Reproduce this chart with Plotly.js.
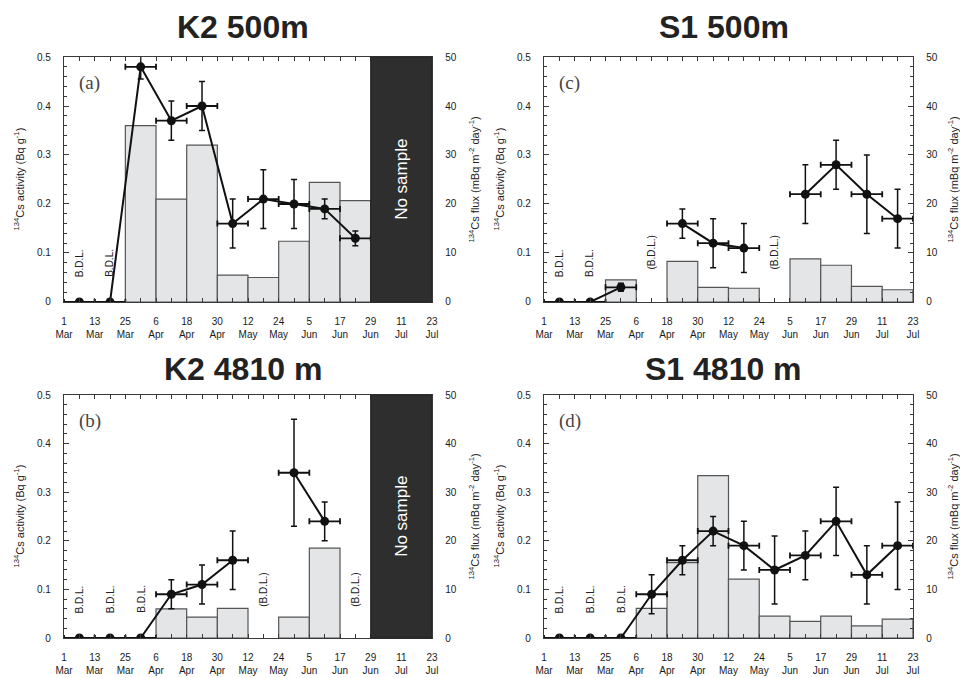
<!DOCTYPE html>
<html>
<head>
<meta charset="utf-8">
<script src="https://cdn.plot.ly/plotly-3.0.1.min.js"></script>
<style>html,body{margin:0;padding:0;background:#fff;}#chart{width:960px;height:678px;}</style>
</head>
<body>
<div id="chart"></div>
<script>
// ---- Data ----
const tickLabels = ['1<br>Mar','13<br>Mar','25<br>Mar','6<br>Apr','18<br>Apr','30<br>Apr','12<br>May','24<br>May','5<br>Jun','17<br>Jun','29<br>Jun','11<br>Jul','23<br>Jul'];
const tickDays = [0,12,24,36,48,60,72,84,96,108,120,132,144]; // days after 1 Mar

// K2 500m (a)
const k2_500_activity = [0,0,0.48,0.37,0.40,0.16,0.21,0.20,0.19,0.13,null,null];
const k2_500_err      = [0,0,0.025,0.04,0.05,0.05,0.06,0.05,0.02,0.015,null,null];
const k2_500_flux     = [null,null,36,21,32,5.5,5,12.4,24.4,20.7,null,null];
const k2_500_bdl      = ['B.D.L.','B.D.L.','','','','','','','','','',''];
const k2_500_nosample = [false,false,false,false,false,false,false,false,false,false,true,true];

// K2 4810 m (b)
const k2_4810_activity = [0,0,0,0.09,0.11,0.16,null,0.34,0.24,null,null,null];
const k2_4810_err      = [0,0,0,0.03,0.04,0.06,null,0.11,0.04,null,null,null];
const k2_4810_flux     = [null,null,null,6.0,4.3,6.1,null,4.3,18.5,null,null,null];
const k2_4810_bdl      = ['B.D.L.','B.D.L.','B.D.L.','','','','(B.D.L.)','','','(B.D.L.)','',''];
const k2_4810_nosample = [false,false,false,false,false,false,false,false,false,false,true,true];

// S1 500m (c)
const s1_500_activity = [0,0,0.03,null,0.16,0.12,0.11,null,0.22,0.28,0.22,0.17];
const s1_500_err      = [0,0,0.008,null,0.03,0.05,0.05,null,0.06,0.05,0.08,0.06];
const s1_500_flux     = [null,null,4.5,null,8.3,3.0,2.8,null,8.8,7.5,3.2,2.5];
const s1_500_bdl      = ['B.D.L.','B.D.L.','','(B.D.L.)','','','','(B.D.L.)','','','',''];
const s1_500_nosample = [false,false,false,false,false,false,false,false,false,false,false,false];

// S1 4810 m (d)
const s1_4810_activity = [0,0,0,0.09,0.16,0.22,0.19,0.14,0.17,0.24,0.13,0.19];
const s1_4810_err      = [0,0,0,0.04,0.03,0.03,0.05,0.07,0.05,0.07,0.06,0.09];
const s1_4810_flux     = [null,null,null,6.1,15.5,33.4,12.1,4.5,3.4,4.5,2.5,3.9];
const s1_4810_bdl      = ['B.D.L.','B.D.L.','B.D.L.','','','','','','','','',''];
const s1_4810_nosample = [false,false,false,false,false,false,false,false,false,false,false,false];

// ---- Build ----
const panels = [
  {title:'K2 500m', tag:'(a)', act:k2_500_activity, err:k2_500_err, flux:k2_500_flux, bdl:k2_500_bdl, ns:k2_500_nosample,
   xd:[0.0667,0.45], yd:[0.5546,0.9159], col:0, row:0},
  {title:'K2 4810 m', tag:'(b)', act:k2_4810_activity, err:k2_4810_err, flux:k2_4810_flux, bdl:k2_4810_bdl, ns:k2_4810_nosample,
   xd:[0.0667,0.45], yd:[0.059,0.4174], col:0, row:1},
  {title:'S1 500m', tag:'(c)', act:s1_500_activity, err:s1_500_err, flux:s1_500_flux, bdl:s1_500_bdl, ns:s1_500_nosample,
   xd:[0.5667,0.951], yd:[0.5546,0.9159], col:1, row:0},
  {title:'S1 4810 m', tag:'(d)', act:s1_4810_activity, err:s1_4810_err, flux:s1_4810_flux, bdl:s1_4810_bdl, ns:s1_4810_nosample,
   xd:[0.5667,0.951], yd:[0.059,0.4174], col:1, row:1}
];

const mids = tickDays.slice(0,-1).map((d,i)=> (d + tickDays[i+1]) / 2);
const halfW = (tickDays[1]-tickDays[0]) / 2;

const tickFont = {family:'Liberation Sans, Arial, sans-serif', size:10, color:'#1a1a1a'};
const lineCol = '#3a3a3a';
const traces = [];
const layout = {
  width:960, height:678, margin:{l:0,r:0,t:0,b:0},
  paper_bgcolor:'#fff', plot_bgcolor:'#fff', showlegend:false,
  shapes:[], annotations:[]
};

panels.forEach((p, k) => {
  const xn = k===0 ? 'x' : 'x'+(k+1);
  const yb = 'y'+(2*k+1);  // flux axis (base, right side)
  const yo = 'y'+(2*k+2);  // activity axis (overlay, left side)
  const xKey = 'xaxis'+(k===0?'':(k+1));
  const ybKey = 'yaxis'+(2*k+1===1?'':(2*k+1));
  const yoKey = 'yaxis'+(2*k+2);

  layout[xKey] = {
    domain:p.xd, anchor:yb, range:[tickDays[0], tickDays[tickDays.length-1]],
    tickmode:'array', tickvals:tickDays, ticktext:tickLabels,
    ticks:'inside', ticklen:4, tickcolor:lineCol, tickwidth:1,
    minor:{ticks:'inside', ticklen:3, dtick:halfW, tick0:0, tickcolor:lineCol},
    showline:true, linecolor:lineCol, linewidth:1.2, mirror:'allticks',
    showgrid:false, zeroline:false, tickfont:tickFont, ticklabelstandoff:10, fixedrange:true
  };
  layout[ybKey] = {
    domain:p.yd, anchor:xn, side:'right', range:[0,50], dtick:10, tick0:0,
    ticks:'inside', ticklen:5, tickcolor:lineCol,
    minor:{ticks:'inside', ticklen:2.5, dtick:2, tickcolor:lineCol},
    showline:true, linecolor:lineCol, linewidth:1.2,
    showgrid:false, zeroline:false, tickfont:tickFont, ticklabelstandoff:10, fixedrange:true
  };
  layout[yoKey] = {
    overlaying:yb, anchor:xn, side:'left', range:[0,0.5], dtick:0.1, tick0:0,
    ticks:'inside', ticklen:5, tickcolor:lineCol,
    minor:{ticks:'inside', ticklen:2.5, dtick:0.02, tickcolor:lineCol},
    showline:true, linecolor:lineCol, linewidth:1.2,
    showgrid:false, zeroline:false, tickfont:tickFont, ticklabelstandoff:10, fixedrange:true
  };

  // flux bars
  traces.push({
    type:'bar', x:mids, y:p.flux, width:tickDays[1]-tickDays[0], xaxis:xn, yaxis:yb,
    marker:{color:'#e3e5e6', line:{color:'#555', width:1.2}}, hoverinfo:'skip'
  });

  // activity points
  traces.push({
    type:'scatter', mode:'lines+markers', x:mids, y:p.act, xaxis:xn, yaxis:yo,
    connectgaps:false,
    line:{color:'#111', width:2},
    marker:{color:'#111', size:9, symbol:'circle'},
    error_y:{type:'data', array:p.err, visible:true, color:'#111', thickness:1.5, width:3},
    error_x:{type:'constant', value:halfW, visible:true, color:'#111', thickness:1.8, width:3},
    hoverinfo:'skip'
  });

  // No sample block
  const nsIdx = p.ns.map((v,i)=>v?i:-1).filter(i=>i>=0);
  if (nsIdx.length) {
    const x0 = tickDays[nsIdx[0]], x1 = tickDays[nsIdx[nsIdx.length-1]+1];
    layout.shapes.push({type:'rect', xref:xn, yref:yb+' domain', x0:x0, x1:x1, y0:0, y1:1,
      fillcolor:'#2e2e2e', line:{color:'#222', width:1}, layer:'above'});
    layout.annotations.push({xref:xn, yref:yb+' domain', x:(x0+x1)/2, y:0.5, text:'No sample',
      textangle:-90, showarrow:false, font:{family:'Liberation Sans, Arial, sans-serif', size:17, color:'#fff'}});
  }

  // B.D.L. labels
  p.bdl.forEach((t,i)=>{
    if (!t) return;
    layout.annotations.push({xref:xn, yref:yo, x:mids[i], y: t.startsWith('(') ? 0.1 : 0.08,
      text:t, textangle:-90, showarrow:false, yanchor:'middle',
      font:{family:'Liberation Sans, Arial, sans-serif', size:10, color:'#222'}});
  });

  // panel tag
  layout.annotations.push({xref:xn+' domain', yref:yb+' domain', x:0.035, y:0.895, xanchor:'left', yanchor:'middle',
    text:p.tag, showarrow:false, font:{family:'Liberation Serif, Times New Roman, serif', size:19, color:'#444'}});

  // panel title
  const xc = (p.xd[0]+p.xd[1])/2 - 0.005;
  layout.annotations.push({xref:'paper', yref:'paper', x:xc, y: p.row===0 ? 1-27/678 : 1-369/678,
    xanchor:'center', yanchor:'middle', text:'<b>'+p.title+'</b>', showarrow:false,
    font:{family:'Liberation Sans, Arial, sans-serif', size:32, color:'#222'}});

  // axis titles
  const ymid = (p.yd[0]+p.yd[1])/2;
  const leftX = p.col===0 ? 19/960 : 499/960;
  const rightX = p.col===0 ? 474/960 : 953/960;
  layout.annotations.push({xref:'paper', yref:'paper', x:leftX, y:ymid, textangle:-90, showarrow:false,
    xanchor:'center', yanchor:'middle',
    text:'<sup>134</sup>Cs activity (Bq g<sup>-1</sup>)',
    font:{family:'Liberation Sans, Arial, sans-serif', size:11, color:'#222'}});
  layout.annotations.push({xref:'paper', yref:'paper', x:rightX, y:ymid, textangle:-90, showarrow:false,
    xanchor:'center', yanchor:'middle',
    text:'<sup>134</sup>Cs flux (mBq m<sup>-2</sup> day<sup>-1</sup>)',
    font:{family:'Liberation Sans, Arial, sans-serif', size:11, color:'#222'}});
});

Plotly.newPlot('chart', traces, layout, {displayModeBar:false, staticPlot:true});
</script>
</body>
</html>
